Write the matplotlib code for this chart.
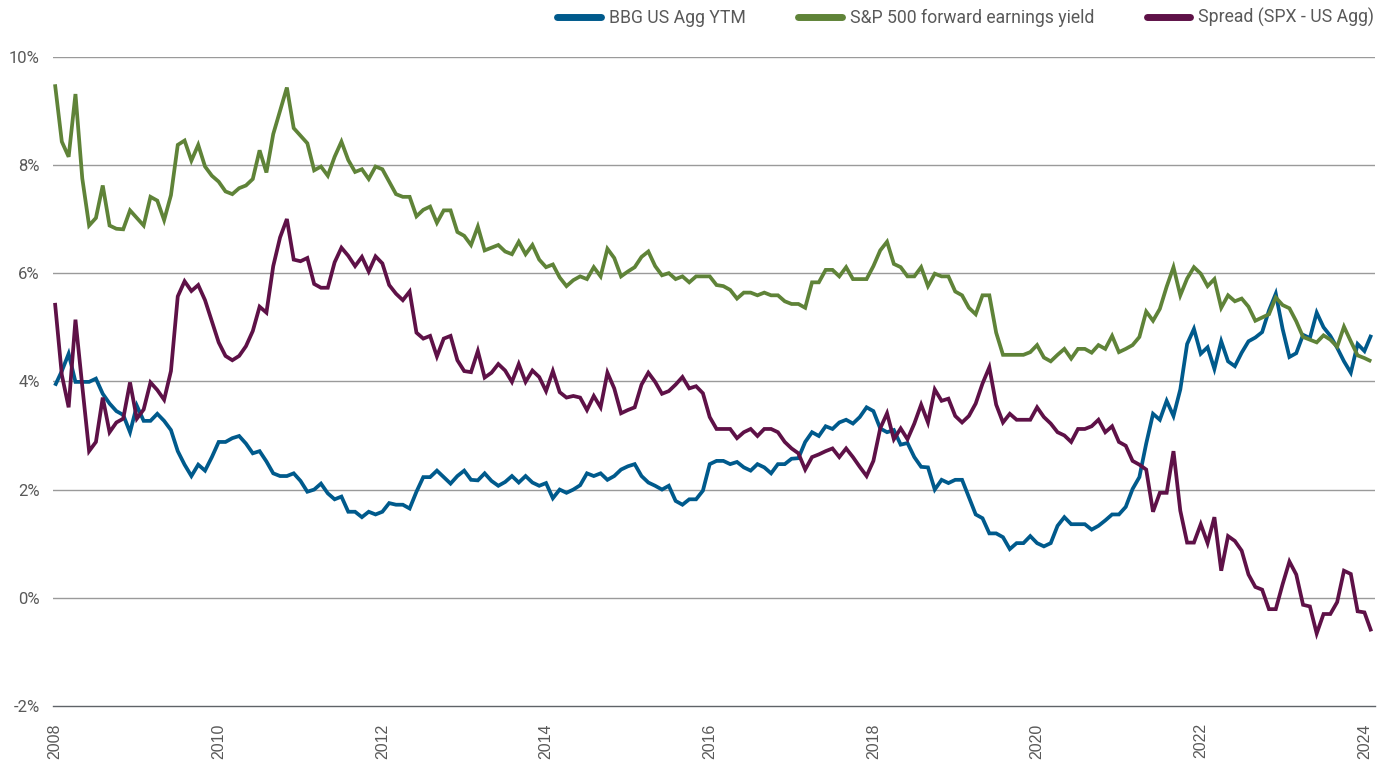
import matplotlib
matplotlib.use("Agg")
import matplotlib.pyplot as plt
import numpy as np

# ---- data (monthly, Jan 2008 - Feb 2024), values in % ----
start_year = 2008
year_labels = [str(y) for y in range(2008, 2025, 2)]
y_ticks = [-2, 0, 2, 4, 6, 8, 10]
y_tick_labels = ["-2%", "0%", "2%", "4%", "6%", "8%", "10%"]

series_names = ["BBG US Agg YTM", "S&P 500 forward earnings yield", "Spread (SPX - US Agg)"]

spx_yield = [
    9.49, 8.43, 8.15, 9.31, 7.75, 6.88, 7.02, 7.62, 6.88, 6.82, 6.81, 7.16,
    7.02, 6.88, 7.41, 7.34, 6.98, 7.44, 8.37, 8.45, 8.08, 8.37, 7.97, 7.80,
    7.69, 7.51, 7.46, 7.57, 7.62, 7.74, 8.27, 7.86, 8.57, 9.00, 9.43, 8.68,
    8.54, 8.40, 7.90, 7.97, 7.80, 8.15, 8.43, 8.09, 7.87, 7.92, 7.74, 7.97,
    7.92, 7.69, 7.46, 7.41, 7.41, 7.05, 7.17, 7.23, 6.93, 7.16, 7.16, 6.76,
    6.69, 6.52, 6.86, 6.42, 6.47, 6.52, 6.40, 6.35, 6.58, 6.35, 6.52, 6.25,
    6.11, 6.16, 5.92, 5.76, 5.87, 5.94, 5.89, 6.11, 5.94, 6.45, 6.28, 5.94,
    6.03, 6.11, 6.30, 6.40, 6.13, 5.96, 6.00, 5.89, 5.94, 5.83, 5.94, 5.94,
    5.94, 5.78, 5.76, 5.69, 5.53, 5.64, 5.64, 5.59, 5.64, 5.59, 5.59, 5.48,
    5.43, 5.43, 5.36, 5.83, 5.83, 6.06, 6.06, 5.94, 6.11, 5.89, 5.89, 5.89,
    6.13, 6.42, 6.58, 6.17, 6.11, 5.94, 5.94, 6.11, 5.76, 5.99, 5.94, 5.94,
    5.66, 5.59, 5.36, 5.24, 5.59, 5.59, 4.90, 4.49, 4.49, 4.49, 4.49, 4.54,
    4.67, 4.44, 4.37, 4.49, 4.60, 4.42, 4.60, 4.60, 4.53, 4.67, 4.60, 4.84,
    4.54, 4.60, 4.67, 4.82, 5.29, 5.12, 5.34, 5.75, 6.11, 5.59, 5.90, 6.11,
    5.99, 5.76, 5.89, 5.36, 5.59, 5.48, 5.53, 5.38, 5.12, 5.18, 5.24, 5.55,
    5.41, 5.35, 5.11, 4.82, 4.77, 4.72, 4.85, 4.77, 4.64, 5.01, 4.74, 4.48,
    4.43, 4.37,
]

agg_ytm = [
    3.92, 4.19, 4.51, 3.99, 3.99, 3.99, 4.05, 3.77, 3.59, 3.45, 3.38, 3.06,
    3.55, 3.27, 3.27, 3.40, 3.27, 3.10, 2.71, 2.46, 2.25, 2.46, 2.35, 2.60,
    2.88, 2.88, 2.95, 2.99, 2.85, 2.67, 2.71, 2.52, 2.30, 2.25, 2.25, 2.30,
    2.16, 1.96, 2.00, 2.11, 1.93, 1.82, 1.87, 1.59, 1.59, 1.49, 1.59, 1.54,
    1.59, 1.75, 1.72, 1.72, 1.65, 1.96, 2.23, 2.23, 2.35, 2.23, 2.11, 2.25,
    2.35, 2.18, 2.17, 2.30, 2.16, 2.07, 2.14, 2.25, 2.13, 2.25, 2.13, 2.07,
    2.12, 1.84, 2.00, 1.94, 2.00, 2.08, 2.30, 2.25, 2.30, 2.18, 2.25, 2.37,
    2.43, 2.47, 2.25, 2.13, 2.07, 2.00, 2.07, 1.79, 1.72, 1.82, 1.82, 1.98,
    2.47, 2.53, 2.53, 2.47, 2.51, 2.41, 2.35, 2.47, 2.41, 2.30, 2.47, 2.47,
    2.57, 2.58, 2.88, 3.06, 2.99, 3.17, 3.12, 3.24, 3.29, 3.22, 3.34, 3.52,
    3.45, 3.13, 3.06, 3.10, 2.83, 2.86, 2.60, 2.42, 2.41, 2.00, 2.18, 2.12,
    2.18, 2.18, 1.86, 1.54, 1.47, 1.19, 1.19, 1.12, 0.90, 1.01, 1.01, 1.14,
    1.01, 0.95, 1.01, 1.33, 1.49, 1.36, 1.36, 1.36, 1.26, 1.33, 1.43, 1.54,
    1.54, 1.68, 2.01, 2.23, 2.85, 3.40, 3.29, 3.64, 3.36, 3.85, 4.69, 4.97,
    4.51, 4.63, 4.23, 4.74, 4.37, 4.28, 4.53, 4.74, 4.81, 4.91, 5.31, 5.62,
    4.97, 4.45, 4.52, 4.86, 4.80, 5.27, 5.00, 4.84, 4.62, 4.37, 4.16, 4.69,
    4.56, 4.86,
]

spread = [
    5.45, 4.12, 3.52, 5.14, 3.91, 2.71, 2.88, 3.70, 3.06, 3.24, 3.31, 3.98,
    3.31, 3.48, 3.98, 3.84, 3.66, 4.19, 5.57, 5.85, 5.67, 5.78, 5.50, 5.11,
    4.72, 4.47, 4.39, 4.47, 4.65, 4.93, 5.38, 5.27, 6.13, 6.66, 7.00, 6.25,
    6.22, 6.28, 5.80, 5.73, 5.73, 6.20, 6.47, 6.32, 6.13, 6.30, 6.03, 6.31,
    6.18, 5.78, 5.62, 5.50, 5.66, 4.90, 4.79, 4.84, 4.46, 4.79, 4.84, 4.39,
    4.19, 4.17, 4.56, 4.07, 4.16, 4.32, 4.20, 3.99, 4.32, 3.99, 4.20, 4.08,
    3.82, 4.19, 3.80, 3.70, 3.73, 3.70, 3.47, 3.73, 3.52, 4.16, 3.87, 3.41,
    3.47, 3.52, 3.94, 4.16, 3.99, 3.77, 3.82, 3.94, 4.08, 3.87, 3.91, 3.78,
    3.34, 3.12, 3.12, 3.12, 2.95, 3.06, 3.12, 2.99, 3.12, 3.12, 3.06, 2.88,
    2.76, 2.67, 2.37, 2.60, 2.65, 2.71, 2.76, 2.60, 2.76, 2.60, 2.42, 2.25,
    2.53, 3.13, 3.41, 2.93, 3.13, 2.93, 3.22, 3.57, 3.24, 3.85, 3.64, 3.68,
    3.36, 3.24, 3.36, 3.59, 3.96, 4.26, 3.57, 3.24, 3.40, 3.29, 3.29, 3.29,
    3.52, 3.34, 3.22, 3.06, 3.00, 2.88, 3.12, 3.12, 3.17, 3.29, 3.06, 3.17,
    2.88, 2.81, 2.53, 2.46, 2.37, 1.59, 1.94, 1.94, 2.71, 1.61, 1.02, 1.02,
    1.36, 1.01, 1.49, 0.50, 1.14, 1.05, 0.87, 0.43, 0.20, 0.15, -0.21, -0.21,
    0.25, 0.67, 0.43, -0.13, -0.16, -0.66, -0.30, -0.30, -0.08, 0.50, 0.44, -0.25,
    -0.27, -0.62,
]

colors = ["#005a8c", "#5f8338", "#5e1147"]
text_color = "#595959"
narrow = ["Liberation Sans Narrow", "Roboto", "DejaVu Sans"]
regular = ["Liberation Sans", "DejaVu Sans"]

W, H = 1391, 761
fig = plt.figure(figsize=(W / 100, H / 100), dpi=100)

ax_left, ax_right = 53, 1375
ax_top, ax_bot = 56.7, 706
ax = fig.add_axes([ax_left / W, 1 - ax_bot / H, (ax_right - ax_left) / W, (ax_bot - ax_top) / H])

n = len(agg_ytm)
x = np.arange(n)
px_per_month = 6.82
ax.set_xlim(-(55 - ax_left) / px_per_month, (ax_right - 55) / px_per_month)
ax.set_ylim(-2, 10)

for yv in y_ticks[1:]:
    ax.axhline(yv, color="#9a9a9a", lw=1.0, zorder=1)

lines = []
for vals, c, name in zip([agg_ytm, spx_yield, spread], colors, series_names):
    ln, = ax.plot(x, vals, color=c, lw=2.7, label=name, zorder=3,
                  solid_joinstyle="miter", solid_capstyle="butt")
    lines.append(ln)

for s in ["top", "right", "left"]:
    ax.spines[s].set_visible(False)
ax.spines["bottom"].set_color("#5f6368")
ax.spines["bottom"].set_linewidth(1.0)

year_pos = [12 * (int(y) - start_year) for y in year_labels]
ax.set_xticks(year_pos)
ax.set_xticklabels(year_labels, rotation=90, family=regular, fontsize=11.5,
                   color=text_color)
ax.tick_params(axis="x", length=0, pad=12.5)

ax.set_yticks(y_ticks)
ax.set_yticklabels(y_tick_labels, family=narrow, fontsize=12, color=text_color)
ax.tick_params(axis="y", length=0, pad=9.5)

leg = fig.legend(handles=lines, labels=series_names, loc="upper right",
                 bbox_to_anchor=(1381 / W, 1 - 1 / H), ncol=3, frameon=False,
                 borderaxespad=0,
                 prop={"family": narrow, "size": 12.7}, labelcolor=text_color,
                 handlelength=2.45, handletextpad=0.45, columnspacing=3.0)
for h in leg.legend_handles:
    h.set_linewidth(5)
    h.set_solid_capstyle("round")

fig.savefig("out.png", dpi=100)
